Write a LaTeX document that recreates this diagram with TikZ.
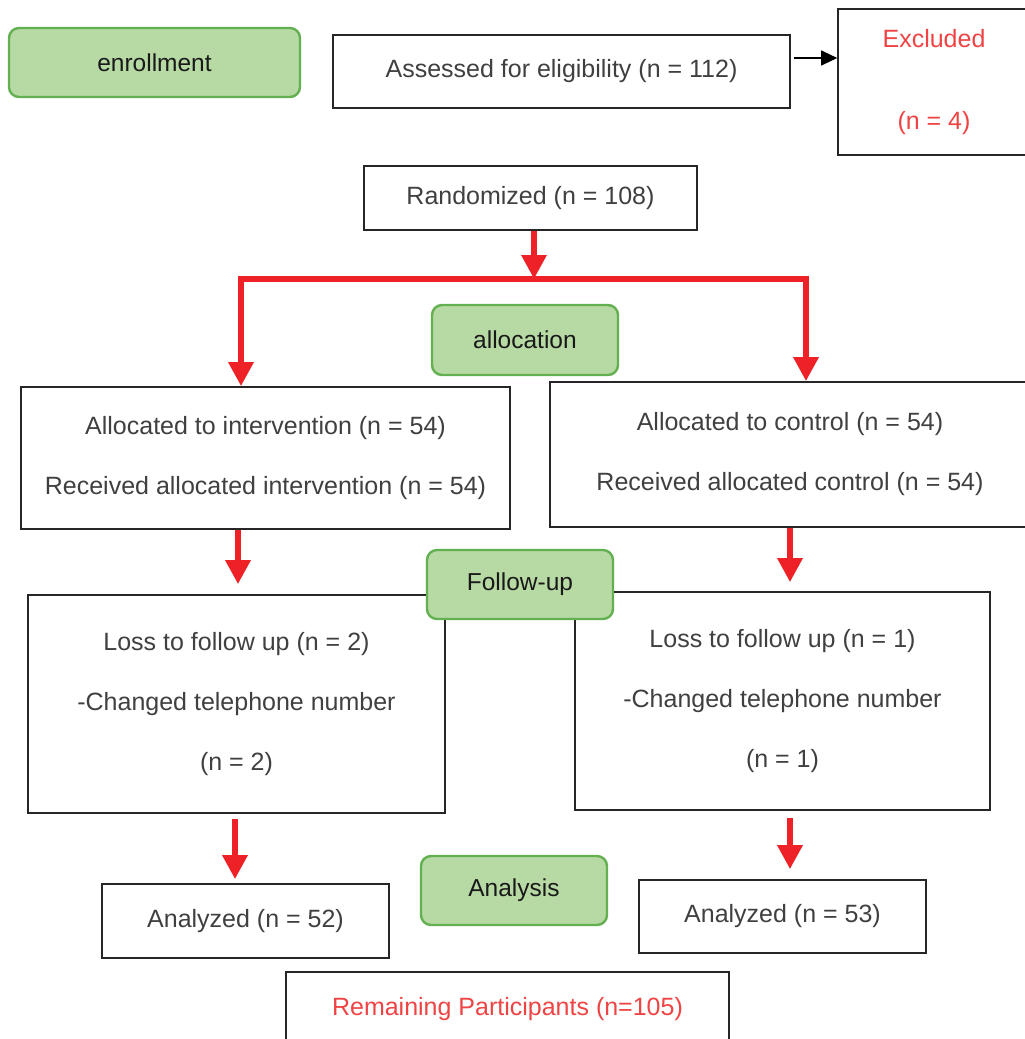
\documentclass[tikz,border=0pt]{standalone}
\usepackage{fontspec}
\setmainfont{Liberation Sans}
\usetikzlibrary{arrows.meta,calc}
\definecolor{gfill}{HTML}{B7D9A4}
\definecolor{gdraw}{HTML}{62B04F}
\definecolor{redarr}{HTML}{EE2226}
\definecolor{redtxt}{HTML}{F04444}
\definecolor{thintxt}{HTML}{404040}
\tikzset{
  stage/.style={draw=gdraw, fill=gfill, line width=2.4pt, rounded corners=10pt,
    font=\fontsize{24.5}{27}\selectfont, text=black!90, inner sep=0pt},
  box/.style={draw=black!85, line width=1.6pt, fill=white, inner sep=0pt, align=center,
    text=thintxt, font=\fontsize{25}{60}\selectfont},
  redflow/.style={draw=redarr, line width=6pt, -{Triangle[width=24pt,length=24pt]}},
  redline/.style={draw=redarr, line width=6pt, line cap=rect},
  blackarr/.style={draw=black, line width=1.2pt, -{Triangle[width=15pt,length=16pt]}}
}
\begin{document}
\begin{tikzpicture}[x=1pt,y=-1pt]
\useasboundingbox (0,0) rectangle (1025,1039);
% enrollment
\node[stage, minimum width=291pt, minimum height=69pt] (enr) at (154.5,62.5) {enrollment};
\node[box, minimum width=457pt, minimum height=73pt] (assess) at (561.5,71.5) {Assessed for eligibility (n = 112)};
\node[box, minimum width=192pt, minimum height=146pt, text=redtxt, font=\fontsize{25}{82}\selectfont] (exc) at (934,82) {Excluded\\(n = 4)};
\coordinate (aa) at ([yshift=13.5pt]assess.east);
\draw[blackarr, shorten <=3pt] (aa) -- (aa -| exc.west);
\node[box, minimum width=333pt, minimum height=64pt] (rand) at (530.5,198) {Randomized (n = 108)};
% split
\coordinate (split) at (534,279);
\coordinate (jl) at (241,279);
\coordinate (jr) at (806,279);
\draw[redflow] (rand.south -| split) -- (split);
\draw[redline] (jl) -- (jr);
% allocation
\node[stage, minimum width=186pt, minimum height=70pt] (alloc) at (525,340) {allocation};
\node[box, minimum width=489pt, minimum height=142pt] (ai) at (265.5,458) {Allocated to intervention (n = 54)\\Received allocated intervention (n = 54)};
\node[box, minimum width=480pt, minimum height=145pt] (ac) at (790,454.5) {Allocated to control (n = 54)\\Received allocated control (n = 54)};
\draw[redflow] (jl) -- (jl |- ai.north);
\draw[redflow] (jr) -- (jr |- ac.north);
% follow-up
\node[box, minimum width=417pt, minimum height=218pt] (lossl) at (236.5,704) {Loss to follow up (n = 2)\\-Changed telephone number\\(n = 2)};
\node[box, minimum width=415pt, minimum height=218pt] (lossr) at (782.5,701) {Loss to follow up (n = 1)\\-Changed telephone number\\(n = 1)};
\node[stage, minimum width=186pt, minimum height=69pt] (fu) at (520,584.5) {Follow-up};
\coordinate (cl) at (238,0);
\coordinate (cr) at (790,0);
\draw[redflow, shorten >=10pt] (ai.south -| cl) -- (lossl.north -| cl);
\draw[redflow, shorten >=9pt] (ac.south -| cr) -- (lossr.north -| cr);
% analysis
\node[stage, minimum width=186pt, minimum height=69pt] (ana) at (514,890.5) {Analysis};
\node[box, minimum width=287pt, minimum height=74pt] (an52) at (245.5,921) {Analyzed (n = 52)};
\node[box, minimum width=287pt, minimum height=73pt] (an53) at (782.5,916.5) {Analyzed (n = 53)};
\coordinate (dl) at (235,0);
\draw[redflow, shorten <=5pt, shorten >=4pt] (lossl.south -| dl) -- (an52.north -| dl);
\draw[redflow, shorten <=7pt, shorten >=10pt] (lossr.south -| cr) -- (an53.north -| cr);
\node[box, minimum width=443pt, minimum height=74pt, text=redtxt] (rem) at (507.5,1009) {Remaining Participants (n=105)};
\end{tikzpicture}
\end{document}
